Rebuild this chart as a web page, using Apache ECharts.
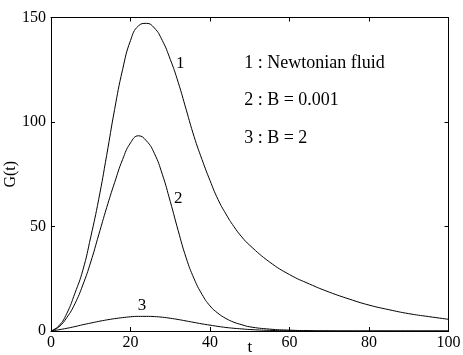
<!DOCTYPE html>
<html>
<head>
<meta charset="utf-8">
<script src="https://cdn.jsdelivr.net/npm/echarts@6/dist/echarts.min.js"></script>
<style>html,body{margin:0;padding:0;background:#fff}#c{width:463px;height:355px}</style>
</head>
<body>
<div id="c"></div>
<script>
var tValues = [0,2,4,6,8,10,12,14,16,18,20,22,24,26,28,30,32,34,36,38,40,42,44,46,48,50,55,60,65,70,75,80,85,90,95,100];
var gNewtonian = [0,2.5,8.5,18,29,45,63,84,106,125,139,146,147.2,145,139,130,119,106,93,82,72,63,56,50,45,41,33,27,22.5,18.6,15.3,12.4,10.2,8.3,6.9,5.6];
var gB0001 = [0,2,6.5,13,22,33,46,59,71,82,90,93.4,91,85,75,62,48,35,25,17.5,12,8.5,6,4.2,3,2,0.9,0.4,0.15,0.05,0,0,0,0,0,0];
var gB2 = [0,0.6,1.3,2.1,3.0,3.8,4.6,5.3,5.9,6.4,6.8,7.0,7.0,6.9,6.6,6.1,5.5,4.8,4.1,3.4,2.8,2.2,1.7,1.3,1.0,0.7,0.3,0.1,0.03,0,0,0,0,0,0,0];
var xTicks = [0,20,40,60,80,100];
var yTicks = [0,50,100,150];
var curveLabels = ['1','2','3'];
var legendLines = ['1 : Newtonian fluid','2 : B = 0.001','3 : B = 2'];

function pairs(ys){ return tValues.map(function(t,i){ return [t, ys[i]]; }); }

var font = 'Liberation Serif';
var chart = echarts.init(document.getElementById('c'), null, {renderer:'canvas'});
var lineStyle = {color:'#000', width:1};
var axisBase = {
  type:'value', min:0, splitLine:{show:false},
  axisLine:{show:true, onZero:false, lineStyle:{color:'#000', width:1}},
  axisTick:{show:true, inside:true, length:4, lineStyle:{color:'#000', width:1}}
};
chart.setOption({
  animation:false,
  grid:{left:51, right:14.5, top:17.5, bottom:24, containLabel:false, outerBoundsMode:'none'},
  xAxis:[
    Object.assign({}, axisBase, {position:'bottom', max:100, interval:20,
      axisLabel:{show:true, color:'#000', fontFamily:font, fontSize:16, margin:4},
      name:'t', nameLocation:'middle', nameGap:8, nameMoveOverlap:false, nameTextStyle:{color:'#000', fontFamily:font, fontSize:17}}),
    Object.assign({}, axisBase, {position:'top', max:100, interval:20, axisLabel:{show:false}})
  ],
  yAxis:[
    Object.assign({}, axisBase, {position:'left', max:150, interval:50,
      axisLabel:{show:true, color:'#000', fontFamily:font, fontSize:16, margin:5},
      name:'G(t)', nameLocation:'middle', nameGap:32, nameMoveOverlap:false, nameRotate:90, nameTextStyle:{color:'#000', fontFamily:font, fontSize:16}}),
    Object.assign({}, axisBase, {position:'right', max:150, interval:50, axisLabel:{show:false}})
  ],
  series:[
    {type:'line', data:pairs(gNewtonian), smooth:0.5, showSymbol:false, lineStyle:lineStyle, xAxisIndex:0, yAxisIndex:0},
    {type:'line', data:pairs(gB0001), smooth:0.5, showSymbol:false, lineStyle:lineStyle, xAxisIndex:0, yAxisIndex:0},
    {type:'line', data:pairs(gB2), smooth:0.5, showSymbol:false, lineStyle:lineStyle, xAxisIndex:0, yAxisIndex:0}
  ]
});

var labelAnchors = [[32.5,128.2],[32.0,63.6],[22.9,12.4]];
var legendAnchors = [[48.6,128.2],[48.6,110.5],[48.6,92.3]];
var els = [];
curveLabels.forEach(function(s,i){
  var p = chart.convertToPixel({gridIndex:0}, labelAnchors[i]);
  els.push({type:'text', x:p[0], y:p[1], style:{text:s, fill:'#000', font:'17px "Liberation Serif"', align:'center', verticalAlign:'middle'}});
});
legendLines.forEach(function(s,i){
  var p = chart.convertToPixel({gridIndex:0}, legendAnchors[i]);
  els.push({type:'text', x:p[0], y:p[1], style:{text:s, fill:'#000', font:'18px "Liberation Serif"', align:'left', verticalAlign:'middle'}});
});
chart.setOption({graphic:els});
</script>
</body>
</html>
